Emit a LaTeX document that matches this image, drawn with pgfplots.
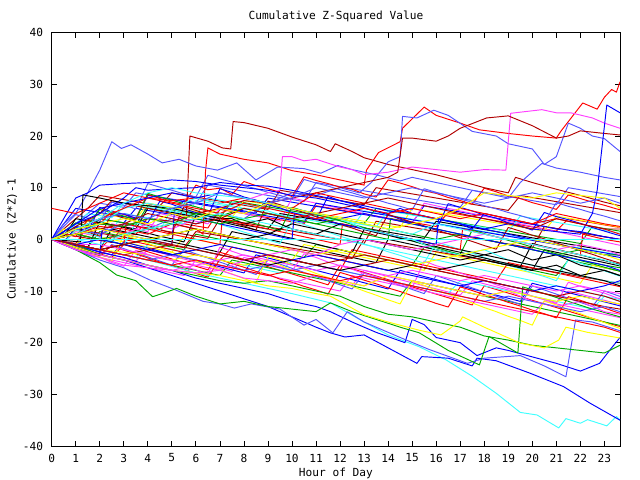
\documentclass[border=0pt]{standalone}
\usepackage{pgfplots}
\usepackage{pgfplotstable}
\pgfplotsset{compat=1.18}
\usepackage{fontspec}
\setmainfont{DejaVu Sans Mono}
\definecolor{gred}{HTML}{FF0000}
\definecolor{ggreen}{HTML}{00A800}
\definecolor{gblue}{HTML}{0000FF}
\definecolor{gmag}{HTML}{FF40FF}
\definecolor{gcyan}{HTML}{40FFFF}
\definecolor{gdred}{HTML}{B00000}
\definecolor{gyel}{HTML}{FFFF00}
\definecolor{gblk}{HTML}{000000}
\definecolor{glb}{HTML}{5555FF}
% half-hourly values, one series per row (h = 0, 0.5, 1, ..., 24)
\pgfplotstableread[header=false]{
n1 0 -0.4 -0.8 2.5 2.1 1.7 1.3 0.9 4.2 3.8 3.4 3.0 2.6 2.2 5.8 5.4 5.0 4.6 4.2 3.8 3.4 3.0 6.5 6.1 5.7 5.3 4.9 4.5 4.1 3.7 3.3 2.9 2.5 5.2 4.8 4.4 4.0 3.6 3.2 2.8 2.4 2.0 1.6 4.0 3.6 3.2 2.8 2.4 2.2
n2 0 -0.5 -1 -1.5 1.5 1 0.5 0 -0.5 -1 -1.5 -2 1 0.5 0 -0.5 -1 -1.5 -2 -2.5 -3 -3.5 -1 -1.5 -2 -2.5 -3 -3.5 -4 -4.5 -5 -1.5 -2 -2.5 -3 -3.5 -4 -4.5 -5 -5.5 -6 -6.5 -7 -4 -4.5 -5 -5.5 -6 -6.2
n3 0 1 2.5 2.1 4 3.6 3.2 6 5.6 5.2 4.8 7.5 7.1 6.7 6.3 5.9 5.5 5.1 8 7.6 7.2 6.8 6.4 6 5.6 5.2 4.8 4.4 4 3.6 3.2 6.5 6.1 5.7 5.3 4.9 4.5 4.1 3.7 3.3 2.9 2.5 2.1 1.7 1.3 0.9 0.5 0.1 -0.3
n4 0 -0.6 -1.2 -1.8 -2.4 -3 -3.6 -4.2 -2 -2.6 -3.2 -3.8 -4.4 -5 -5.6 -6.2 -3.5 -4.1 -4.7 -5.3 -5.9 -6.5 -7.1 -7.7 -8.3 -8.9 -6 -6.6 -7.2 -7.8 -8.4 -9 -9.6 -10.2 -10.8 -8 -8.6 -9.2 -9.8 -10.4 -11 -11.6 -12.2 -10 -10.6 -11.2 -11.8 -12.4 -13
n5 0 0.8 3 2.6 2.2 1.8 5 4.6 4.2 3.8 3.4 3 7.5 7.1 6.7 6.3 5.9 5.5 5.1 4.7 4.3 3.9 3.5 3.1 2.7 2.3 5.5 5.1 4.7 4.3 3.9 3.5 3.1 2.7 2.3 1.9 1.5 1.1 0.7 0.3 -0.1 -0.5 -0.9 -1.3 -1.7 -2.1 -2.5 -2.9 -3.3
n6 0 2 4 6 8.5 8.1 7.7 7.3 6.9 6.5 9 8.6 8.2 7.8 7.4 7 6.6 6.2 5.8 9.5 9.1 8.7 8.3 7.9 7.5 7.1 6.7 10 9.6 9.2 8.8 8.4 8 7.6 7.2 6.8 6.4 6 5.6 8.5 8.1 7.7 7.3 6.9 6.5 6.1 5.7 5.3 4.9
n7 0 -0.5 -1 1 0.5 0 -0.5 -1 -1.5 -2 -2.5 0.5 0 -0.5 -1 -1.5 -2 -2.5 -3 -3.5 -4 -1 -1.5 -2 -2.5 -3 -3.5 -4 -4.5 -5 -5.5 -6 -2.5 -3 -3.5 -4 -4.5 -5 -5.5 -6 -6.5 -7 -7.5 -8 -8.5 -5 -5.5 -6 -6.5
n8 0 -0.5 -1 -1.5 -2 2 1.5 1 0.5 0 -0.5 -1 -1.5 -2 -2.5 1.5 1 0.5 0 -0.5 -1 -1.5 -2 -2.5 -3 -3.5 -4 -4.5 0 -0.5 -1 -1.5 -2 -2.5 -3 -3.5 -4 -4.5 -5 -5.5 -6 -2 -2.5 -3 -3.5 -4 -4.5 -5 -5.5
n9 0 1.5 3 5 7 6.6 6.2 9 8.6 8.2 7.8 7.4 7 10.5 10.1 9.7 9.3 8.9 8.5 8.1 7.7 7.3 11 10.6 10.2 9.8 9.4 9 8.6 8.2 7.8 7.4 7 6.6 6.2 9.5 9.1 8.7 8.3 7.9 7.5 7.1 6.7 10 9.6 9.2 8.8 8.4 8
n10 0 -0.7 -1.4 -2.1 -2.8 -3.5 -1 -1.7 -2.4 -3.1 -3.8 -4.5 -5.2 -5.9 -2.5 -3.2 -3.9 -4.6 -5.3 -6 -6.7 -7.4 -8.1 -8.8 -5 -5.7 -6.4 -7.1 -7.8 -8.5 -9.2 -9.9 -10.6 -11.3 -12 -12.7 -9 -9.7 -10.4 -11.1 -11.8 -12.5 -13.2 -13.9 -14.6 -15.3 -16 -16.7 -17.2
n11 0 1 2 1.6 4 3.6 3.2 2.8 6.5 6.1 5.7 5.3 4.9 4.5 4.1 7.5 7.1 6.7 6.3 5.9 5.5 5.1 4.7 4.3 3.9 3.5 3.1 6 5.6 5.2 4.8 4.4 4 3.6 3.2 2.8 2.4 2 1.6 1.2 0.8 0.4 0 -0.4 -0.8 2.5 2.1 1.7 1.3
n12 0 -0.6 -1.2 -1.8 -2.4 -3 -0.5 -1.1 -1.7 -2.3 -2.9 -3.5 -4.1 -4.7 -5.3 -5.9 -6.5 -3 -3.6 -4.2 -4.8 -5.4 -6 -6.6 -7.2 -7.8 -8.4 -9 -9.6 -6 -6.6 -7.2 -7.8 -8.4 -9 -9.6 -10.2 -10.8 -11.4 -12 -8.5 -9.1 -9.7 -10.3 -10.9 -11.5 -12.1 -12.7 -13.3
n13 0 -0.5 1.5 1 0.5 3 2.5 2 1.5 5 4.5 4 3.5 3 6 5.5 5 4.5 4 3.5 8 7.5 7 6.5 6 5.5 5 4.5 4 3.5 3 7 6.5 6 5.5 5 4.5 4 3.5 3 2.5 2 1.5 1 0.5 0 -0.5 -1 -1.5
n14 0 -0.5 -1 -1.5 -2 -2.5 -3 -3.5 -1 -1.5 -2 -2.5 -3 -3.5 -4 -4.5 -5 -5.5 -6 -6.5 -4 -4.5 -5 -5.5 -6 -6.5 -7 -7.5 -8 -8.5 -9 -9.5 -10 -10.5 -8 -8.5 -9 -9.5 -10 -10.5 -11 -11.5 -12 -12.5 -13 -13.5 -11 -11.5 -12
n15 0 1 0.6 0.2 -0.2 -0.6 3 2.6 2.2 1.8 1.4 1 0.6 0.2 4 3.6 3.2 2.8 2.4 2 1.6 1.2 0.8 0.4 0 -0.4 -0.8 3.5 3.1 2.7 2.3 1.9 1.5 1.1 0.7 0.3 -0.1 -0.5 -0.9 -1.3 -1.7 2.5 2.1 1.7 1.3 0.9 0.5 0.1 -0.3
n16 0 2 1.6 3.5 5 4.6 4.2 3.8 7 6.6 6.2 5.8 5.4 5 4.6 4.2 7.5 7.1 6.7 6.3 5.9 5.5 5.1 4.7 4.3 3.9 3.5 3.1 2.7 2.3 6 5.6 5.2 4.8 4.4 4 3.6 3.2 2.8 2.4 2 1.6 4.5 4.1 3.7 3.3 2.9 2.5 2.1
n17 0 3 6 5.6 5.2 4.8 4.4 4 8.5 8.1 7.7 7.3 6.9 6.5 6.1 5.7 5.3 4.9 4.5 4.1 3.7 3.3 7 6.6 6.2 5.8 5.4 5 4.6 4.2 3.8 3.4 3 2.6 2.2 1.8 1.4 1 0.6 0.2 -0.2 -0.6 -1 -1.4 -1.8 -2.2 -2.6 -3 -3.4
n18 0 -0.5 -1 -1.5 -2 0.5 0 -0.5 -1 -1.5 -2 -2.5 -3 -3.5 -4 -1.5 -2 -2.5 -3 -3.5 -4 -4.5 -5 -5.5 -6 -2 -2.5 -3 -3.5 -4 -4.5 -5 -5.5 -6 -6.5 -7 -7.5 -8 -4.5 -5 -5.5 -6 -6.5 -7 -7.5 -8 -8.5 -9 -9.5
n19 0 -1 -2 -3 -3.5 -4 -4.5 -5 -5.5 -6 -6.5 -7 -4 -4.5 -5 -5.5 -6 -6.5 -7 -7.5 -8 -8.5 -9 -9.5 -10 -7 -7.5 -8 -8.5 -9 -9.5 -10 -10.5 -11 -11.5 -12 -12.5 -13 -13.5 -14 -14.5 -12 -12.5 -13 -13.5 -14 -14.5 -15 -15.5
n20 0 -0.5 -1 -1.5 -2 -2.5 -3 -3.5 -4 -4.5 -5 -5.5 -6 -6.5 -7 -4 -4.5 -5 -5.5 -6 -6.5 -7 -7.5 -8 -8.5 -9 -9.5 -10 -10.5 -11 -8 -8.5 -9 -9.5 -10 -10.5 -11 -11.5 -12 -12.5 -13 -13.5 -14 -14.5 -15 -15.5 -16 -16.5 -17
n21 0 1 3 5 4.6 4.2 7 6.6 6.2 5.8 5.4 5 4.6 8 7.6 7.2 6.8 6.4 6 5.6 5.2 4.8 4.4 4 3.6 3.2 2.8 2.4 5.5 5.1 4.7 4.3 3.9 3.5 3.1 2.7 2.3 1.9 1.5 4.5 4.1 3.7 3.3 2.9 2.5 2.1 1.7 1.3 0.9
n22 0 -0.4 2 1.6 1.2 0.8 0.4 0 -0.4 -0.8 -1.2 -1.6 1.5 1.1 0.7 0.3 -0.1 -0.5 -0.9 -1.3 -1.7 -2.1 -2.5 -2.9 -3.3 -3.7 0 -0.4 -0.8 -1.2 -1.6 -2 -2.4 -2.8 -3.2 -3.6 -4 -4.4 -4.8 -5.2 -5.6 -6 -6.4 -6.8 -7.2 -7.6 -8 -8.4 -8.8
n23 0 0.5 4 3.6 3.2 2.8 2.4 2 6 5.6 5.2 4.8 4.4 4 3.6 3.2 2.8 2.4 2 5 4.6 4.2 3.8 3.4 3 2.6 2.2 1.8 1.4 1 0.6 0.2 3.5 3.1 2.7 2.3 1.9 1.5 1.1 0.7 0.3 -0.1 -0.5 -0.9 -1.3 -1.7 -2.1 -2.5 -2.9
n24 0 -0.8 -1.6 -2.4 -3.2 -1 -1.8 -2.6 -3.4 -4.2 -5 -2 -2.8 -3.6 -4.4 -5.2 -6 -6.8 -4 -4.8 -5.6 -6.4 -7.2 -8 -8.8 -9.6 -6.5 -7.3 -8.1 -8.9 -9.7 -10.5 -7 -7.8 -8.6 -9.4 -10.2 -11 -11.8 -12.6 -9 -9.8 -10.6 -11.4 -12.2 -13 -10 -10.8 -11.6
m1 0 1.2 0.5 3.8 2.9 5.5 4.8 4.1 8.7 7.9 7.2 6.8 10.5 9.6 9.9 8.7 11.2 10.4 9.8 9.1 8.3 12.1 11.4 10.8 10.1 9.7 8.8 8.2 11.5 10.9 10.2 9.4 8.9 8.1 7.5 6.8 9.9 9.2 8.4 7.9 7.1 6.5 5.8 8.6 7.9 7.2 6.6 5.9 5.4
m2 0 -0.7 2.4 1.5 6.2 5.3 4.9 4.1 3.2 7.4 6.8 5.9 5.2 4.5 9.8 9.1 8.2 7.6 6.7 6.1 5.2 4.6 3.8 8.3 7.5 6.9 6.1 5.4 4.8 3.9 3.3 2.5 1.8 6.9 6.2 5.5 4.7 4.1 3.2 2.6 1.8 5.2 4.4 3.8 3.1 2.3 1.6 0.9 0.3
m3 0 -1.1 -1.8 -2.9 -3.4 -4.5 -5.2 -2.1 -2.9 -3.7 -4.1 -5.3 -5.9 -6.8 -1.5 -2.3 -3.1 -3.6 -4.8 -5.4 -6.1 -2.8 -3.5 -4.4 -5.1 -5.8 -6.6 -7.2 -8.1 -8.8 -9.4 -4.2 -5.1 -5.7 -6.5 -7.3 -7.9 -8.8 -9.5 -10.1 -11 -11.7 -12.4 -8.3 -9.1 -9.8 -10.4 -11.3 -11.9
m4 0 -0.9 -1.5 -2.6 -3.1 -1.2 -2.1 -2.8 -3.6 -4.4 -5.1 -5.8 -6.6 -7.3 -3.9 -4.7 -5.4 -6.2 -6.8 -7.7 -8.3 -9.1 -9.8 -10.6 -6.4 -7.1 -7.9 -8.6 -9.4 -10.1 -10.9 -11.6 -12.4 -13.1 -9.2 -9.9 -10.7 -11.4 -12.2 -12.9 -13.7 -14.4 -15.2 -11.1 -11.8 -12.6 -13.3 -14.1 -14.8
m5 0 0.8 2.1 1.4 0.6 4.9 4.1 3.5 2.7 1.9 1.2 6.3 5.6 4.8 4.1 3.3 2.6 1.8 7.4 6.7 5.9 5.2 4.4 3.7 2.9 2.2 1.4 0.7 4.8 4.1 3.3 2.6 1.8 1.1 0.3 -0.4 -1.2 -1.9 2.3 1.6 0.8 0.1 -0.7 -1.4 -2.2 -2.9 -3.7 -4.4 -5.1
m6 0 -0.6 1.8 1.2 0.4 -0.3 -1.1 3.2 2.5 1.7 5.9 5.2 4.4 3.7 2.9 2.2 1.4 0.7 -0.1 -0.8 3.6 2.9 2.1 1.4 0.6 -0.1 -0.9 -1.6 -2.4 -3.1 -3.9 -4.6 -0.5 -1.2 -2 -2.7 -3.5 -4.2 -5 -5.7 -6.5 -7.2 -8 -3.9 -4.6 -5.4 -6.1 -6.9 -7.6
m7 0 1.5 3.2 2.6 5.8 5.1 4.5 3.8 8.9 8.2 7.6 6.9 6.3 5.6 5 4.3 3.7 3 2.4 1.7 6.2 5.5 4.9 4.2 3.6 2.9 2.3 1.6 1 0.3 -0.3 -1 -1.6 -2.3 -2.9 1.8 1.1 0.5 -0.2 -0.8 -1.5 -2.1 -2.8 -3.4 -4.1 -4.7 -5.4 -6 -6.7
m8 0 -0.8 -1.7 -2.5 -3.4 -4.2 0.9 0.1 -0.8 -1.6 -2.5 -3.3 -4.2 -5 -5.9 -6.7 -7.6 -8.4 -3.2 -4 -4.9 -5.7 -6.6 -7.4 -8.3 -9.1 -10 -10.8 -11.7 -12.5 -8.1 -8.9 -9.8 -10.6 -11.5 -12.3 -13.2 -14 -14.9 -15.7 -16.6 -11.9 -12.7 -13.6 -14.4 -15.3 -16.1 -17 -17.8
m9 0 2.5 4.8 4.1 3.5 7.2 6.6 5.9 10.8 10.1 9.5 8.8 8.2 12.4 11.7 11.1 10.4 9.8 9.1 8.5 7.8 11.6 10.9 10.3 9.6 9 8.3 7.7 7 6.4 5.7 9.8 9.1 8.5 7.8 7.2 6.5 5.9 5.2 4.6 3.9 3.3 7.1 6.4 5.8 5.1 4.5 3.8 3.2
m10 0 -0.5 -1.1 -1.6 3.4 2.8 2.3 1.7 1.2 0.6 0.1 -0.5 4.6 4 3.5 2.9 2.4 1.8 1.3 0.7 0.2 -0.4 -0.9 -1.5 -2 -2.6 1.9 1.3 0.8 0.2 -0.3 -0.9 -1.4 -2 -2.5 -3.1 -3.6 -4.2 -4.7 -5.3 -0.8 -1.4 -1.9 -2.5 -3 -3.6 -4.1 -4.7 -5.2
}\rawbulk
\pgfplotstabletranspose[colnames from=0]\bulk\rawbulk
\begin{document}
\begin{tikzpicture}
\fontsize{11.2}{13}\selectfont
\begin{axis}[
  at={(0,0)}, anchor=south west,
  scale only axis, width=568.3bp, height=413.3bp,
  xmin=0, xmax=23.65, ymin=-40, ymax=40,
  xtick={0,1,...,23}, ytick={-40,-30,...,40},
  xticklabels={0,1,2,3,4,5,6,7,8,9,10,11,12,13,14,15,16,17,18,19,20,21,22,23},
  yticklabels={-40,-30,-20,-10,0,10,20,30,40},
  tick align=inside, major tick length=5bp,
  xticklabel style={anchor=center, inner sep=0pt, yshift=-12bp},
  yticklabel style={anchor=east, inner sep=0pt, xshift=-8.5bp},
  axis line style={line width=0.8bp}, every tick/.style={black, line width=0.8bp},
  every axis plot/.append style={no markers, line width=0.95bp, line join=round},
  clip=true,
]
% half-hourly bulk series
\addplot[gred]   table[x expr=\coordindex/2, y=n1]  {\bulk};
\addplot[ggreen] table[x expr=\coordindex/2, y=n2]  {\bulk};
\addplot[gblue]  table[x expr=\coordindex/2, y=n3]  {\bulk};
\addplot[gmag]   table[x expr=\coordindex/2, y=n4]  {\bulk};
\addplot[gcyan]  table[x expr=\coordindex/2, y=n5]  {\bulk};
\addplot[gdred]  table[x expr=\coordindex/2, y=n6]  {\bulk};
\addplot[gyel]   table[x expr=\coordindex/2, y=n7]  {\bulk};
\addplot[gblk]   table[x expr=\coordindex/2, y=n8]  {\bulk};
\addplot[glb]    table[x expr=\coordindex/2, y=n9]  {\bulk};
\addplot[gred]   table[x expr=\coordindex/2, y=n10] {\bulk};
\addplot[ggreen] table[x expr=\coordindex/2, y=n11] {\bulk};
\addplot[gblue]  table[x expr=\coordindex/2, y=n12] {\bulk};
\addplot[gmag]   table[x expr=\coordindex/2, y=n13] {\bulk};
\addplot[gcyan]  table[x expr=\coordindex/2, y=n14] {\bulk};
\addplot[gdred]  table[x expr=\coordindex/2, y=n15] {\bulk};
\addplot[gyel]   table[x expr=\coordindex/2, y=n16] {\bulk};
\addplot[gblue]  table[x expr=\coordindex/2, y=n17] {\bulk};
\addplot[gred]   table[x expr=\coordindex/2, y=n18] {\bulk};
\addplot[gmag]   table[x expr=\coordindex/2, y=n19] {\bulk};
\addplot[ggreen] table[x expr=\coordindex/2, y=n20] {\bulk};
\addplot[gcyan]  table[x expr=\coordindex/2, y=n21] {\bulk};
\addplot[gdred]  table[x expr=\coordindex/2, y=n22] {\bulk};
\addplot[gblk]   table[x expr=\coordindex/2, y=n23] {\bulk};
\addplot[glb]    table[x expr=\coordindex/2, y=n24] {\bulk};
\addplot[gred]   table[x expr=\coordindex/2, y=m1]  {\bulk};
\addplot[gblue]  table[x expr=\coordindex/2, y=m2]  {\bulk};
\addplot[gmag]   table[x expr=\coordindex/2, y=m3]  {\bulk};
\addplot[gred]   table[x expr=\coordindex/2, y=m4]  {\bulk};
\addplot[gdred]  table[x expr=\coordindex/2, y=m5]  {\bulk};
\addplot[gcyan]  table[x expr=\coordindex/2, y=m6]  {\bulk};
\addplot[ggreen] table[x expr=\coordindex/2, y=m7]  {\bulk};
\addplot[gyel]   table[x expr=\coordindex/2, y=m8]  {\bulk};
\addplot[glb]    table[x expr=\coordindex/2, y=m9]  {\bulk};
\addplot[gblk]   table[x expr=\coordindex/2, y=m10] {\bulk};
% upper outliers
\addplot[gdred] coordinates {(0,0)(0.5,1)(1,2.5)(2,5)(2.5,7.5)(3,7)(4,6)(5,5)(5.6,4)(5.75,20)(6.5,19)(7.1,17.7)(7.45,17.5)(7.55,22.8)(8,22.6)(9,21.5)(10,19.8)(11,18.3)(11.6,17)(11.8,18.5)(12.5,17)(13,15.8)(14,14.5)(15,13.5)(16,12.5)(17,11.3)(18,10)(19,9)(19.3,12)(20,11)(21,9.7)(22,8.5)(23,7.2)(23.65,6.5)};
\addplot[gred] coordinates {(0,0)(1,1)(2,2.5)(3,2)(4,1)(5,3)(6,2)(6.3,1)(6.4,13.1)(6.5,17.7)(7,16.5)(8,15.5)(9,14.8)(10,13.3)(11,12.5)(12,11.5)(13,10.5)(13.1,13.4)(13.6,16.8)(14.5,18.9)(14.6,21.5)(15.5,25.6)(16,24)(17,22.5)(17.8,21.2)(19,20.5)(20,20)(21,19.6)(21.2,21)(22.1,26.4)(22.7,25.2)(23,27.5)(23.3,29)(23.5,28.5)(23.65,30.5)};
\addplot[glb] coordinates {(0,0)(0.5,3)(1,5)(1.5,9)(2,13.4)(2.5,18.9)(2.9,17.6)(3.3,18.3)(4,16.5)(4.6,14.8)(5.3,15.5)(6,14.2)(6.9,13.4)(7.7,14.8)(8.5,11.5)(9.4,14)(10.5,13.7)(11.2,12.8)(11.9,14.3)(12.5,13.5)(13.5,12.5)(14.5,11.3)(15,12)(16,11)(17,10)(18,9)(19,8)(19.5,11)(20.4,14.7)(21,13.8)(22,13)(23,12)(23.65,11.5)};
\addplot[glb] coordinates {(0,0)(1,2)(2,1)(3,3)(4,2)(5,4)(6,3)(7,5)(8,4)(9,7)(10,9)(11,8.5)(12,10)(12.8,9)(13.3,11)(14,15)(14.5,16)(14.6,23.8)(15.2,23.5)(15.9,25)(16.5,24)(17.5,20.9)(18.5,20)(19,18.5)(20,17.5)(20.5,14.5)(21,16)(21.5,22.5)(22,21.5)(22.5,20)(23,19.5)(23.65,17)};
\addplot[gmag] coordinates {(0,0)(1,-1)(2,0)(3,1)(4,3)(5,2)(6,4)(7,6)(8,7.5)(9,9)(9.5,9.5)(9.6,16)(10,16)(10.5,15.2)(11,15.5)(12,14)(12.5,13.5)(13,12.5)(14,13)(15,14)(16,13.5)(17,13)(18,13.5)(18.9,13.4)(19.1,24.4)(20.4,25.1)(21,24.5)(21.6,24.5)(22.5,23.5)(23,22.5)(23.65,21.5)};
\addplot[gdred] coordinates {(0,0)(1,1)(2,3)(3,2.5)(4,4)(5,3.5)(6,5)(7,6)(8,7.5)(9,7)(10,8)(11,9)(12,10)(13,11)(14,12)(14.4,13)(14.6,19.6)(15,19.6)(16,19)(16.5,20)(17,21.5)(18.1,23.5)(19,23.9)(20,22)(21,19.6)(21.5,20)(22,21)(23,20.5)(23.65,20.2)};
\addplot[gblue] coordinates {(0,0)(1,3)(2,5)(3,8)(3.5,10)(4,9.5)(5,9.8)(6,10)(7,11)(8,10.5)(9,10.3)(10,9.5)(11,8.5)(12,7.5)(13,6.5)(14,5.5)(15,5)(16,4)(17,3)(18,2)(19,3)(20,2)(21,1.5)(22,1)(22.5,5)(22.7,9.5)(23.1,26)(23.65,24.5)};
\addplot[gblue] coordinates {(0,0)(0.5,4)(1,8)(1.5,9)(2,10.5)(3,10.8)(4,11)(5,11.5)(6,11.2)(7,10.5)(8,10)(9,9.5)(10,8.5)(11,8)(12,7)(13,6)(14,5)(14.5,6)(15,5)(16,4)(17,3)(17.5,2)(18,5)(19,4)(20,3)(21,2)(22,1.5)(23,0.5)(23.65,0)};
\addplot[gred] coordinates {(0,6)(0.5,5.5)(1,5)(2,7)(3,9)(4,8)(5,7.5)(6,8)(7,7)(8,8)(9,7)(10,6)(11,9)(12,8)(13,7)(14,6)(15,5)(16,4)(17,6)(18,5)(19,4)(20,3)(21,5)(22,4)(23,3)(23.65,2.5)};
\addplot[gblk] coordinates {(0,0)(1.2,-0.5)(1.3,8.6)(2,8)(3,7)(4,6.5)(5,6)(6,5)(7,4)(7.5,4)(8,3)(9,4)(10,2)(11,1)(12,3)(13,2)(14,1)(15,0)(16,-1)(17,-2)(18,-3)(19,-2)(20,-4)(21,-3)(22,-5)(23,-6)(23.65,-7)};
% lower outliers
\addplot[gcyan] coordinates {(0,0)(2,-2)(4,-4)(6,-6.5)(8,-8.5)(10,-10.5)(11.6,-12.3)(13,-16)(14,-18.5)(15.3,-20.8)(16.4,-23.3)(17.5,-26.5)(18.5,-29.8)(19.5,-33.5)(20.2,-34)(21.1,-36.5)(21.4,-34.7)(22,-35.6)(22.3,-34.9)(23.1,-36.1)(23.5,-34.3)(23.65,-35)};
\addplot[gblue] coordinates {(0,0)(1,-1.5)(2,-3)(3,-4)(4,-5.5)(5,-7)(6,-8.5)(7,-10)(8,-11.5)(9,-13)(10,-15)(11,-17)(11.6,-18.1)(12.2,-18.9)(13,-18.5)(14,-21)(15.2,-24)(15.4,-22.7)(16.5,-23)(17.5,-24.5)(17.7,-23)(18.5,-23.5)(19.9,-25.9)(21.3,-28.5)(22.4,-31.7)(23.65,-35)};
\addplot[gblue] coordinates {(0,0)(1,-1)(2,-2.5)(3,-3.5)(4,-5)(5,-6)(6,-7.5)(7,-8.5)(8,-9.5)(9,-10.5)(10,-12)(11,-13)(11.6,-14)(12.5,-16)(13.5,-18)(14.7,-20)(15,-15.5)(15.5,-16.5)(16,-19)(17,-20)(17.7,-22.5)(18.5,-21)(19,-21.5)(20.2,-23)(21,-24)(22,-25.5)(22.8,-24)(23.3,-21)(23.65,-19)};
\addplot[glb] coordinates {(0,0)(1,-2)(2,-4)(3,-5.5)(4.1,-7.9)(5,-9.5)(6.3,-12)(7,-12.5)(7.6,-13.3)(8.3,-12.5)(9.5,-13.5)(10.5,-16.6)(11,-15.5)(11.7,-18.1)(12.3,-14)(13,-16)(14.4,-18.8)(15.7,-21.3)(17.3,-24)(18,-23)(19.5,-22.5)(20.5,-24.5)(21.4,-26.6)(21.8,-15.6)(22.5,-16)(23.65,-17.7)};
\addplot[ggreen] coordinates {(0,0)(1,-2)(2,-4.5)(2.7,-6.9)(3.5,-8)(4.2,-11.1)(4.6,-10.5)(5.2,-9.5)(6,-11)(7,-12.5)(8,-12)(9,-13)(10,-13.5)(11,-14)(11.6,-12.3)(12.5,-14)(13.5,-15.5)(14.5,-17)(15.3,-18.1)(16.5,-21.5)(17.8,-24.3)(18.2,-18.8)(19.4,-22)(19.6,-9.2)(20.5,-10.5)(21.5,-12)(22.5,-13.5)(23.65,-15)};
\addplot[ggreen] coordinates {(0,0)(1,-1)(2,-3)(3,-4)(4,-5)(5,-6)(6,-7)(7,-8)(8,-8.5)(9,-8)(10,-9)(11,-10)(12,-11)(13,-13)(14,-14.5)(15,-15)(16,-16)(17,-17)(18,-18.7)(19,-19.5)(20,-20.5)(21,-21)(22,-21.5)(23,-22)(23.65,-20.5)};
\addplot[gyel] coordinates {(0,0)(1,-1.5)(2,-3)(3,-4)(4,-5)(5,-6)(6,-6.5)(7,-7)(8,-8)(9,-9)(10,-9.5)(11,-10.5)(11.6,-11)(13,-14.6)(14,-16)(15.3,-17.6)(16.2,-18.5)(17,-15.8)(17.1,-15)(18,-17)(19.5,-20.1)(20.5,-21)(21.1,-19.5)(21.4,-17)(22.3,-18)(23.65,-19.1)};
% hourly bulk
\addplot[gred] coordinates {(0,0)(1,-1)(2,-2)(3,-1)(3.1,3)(4,2)(5,1)(6,0)(7,-1)(7.1,4)(8,3)(9,2)(10,1)(11,0)(12,-1)(12.1,3)(13,2)(14,1)(15,0)(16,-1)(17,-2)(17.1,2)(18,1)(19,0)(20,-1)(21,-2)(22,-3)(22.1,1)(23,0)(23.65,-0.5)};
\addplot[ggreen] coordinates {(0,0)(1,2)(2,3)(3,2.5)(4,4)(5,3)(6,5)(7,4.5)(8,6)(9,5)(10,4)(11,3)(12,2)(13,1)(14,0)(14.1,4)(15,3)(16,2)(17,1)(18,0)(19,-1)(20,-2)(21,-3)(22,-4)(23,-5)(23.65,-5.5)};
\addplot[gblue] coordinates {(0,0)(1,-2)(2,-3)(2.1,2)(3,1)(4,0)(5,-1)(5.1,5)(6,4)(7,3)(8,2)(9,1)(10,0)(10.1,5)(11,4)(12,3)(13,2)(14,1)(15,0)(16,-1)(16.1,4)(17,3)(18,2)(19,1)(20,0)(21,-1)(22,-2)(23,-3)(23.65,-3.5)};
\addplot[gmag] coordinates {(0,0)(1,-2)(2,-3.5)(3,-5)(4,-5.5)(5,-6)(6,-6.5)(7,-6)(8,-7.5)(9,-8)(10,-8.5)(11,-7)(12,-8)(13,-9)(14,-7)(15,-8)(16,-9)(17,-10)(18,-11)(19,-10)(20,-12)(21,-13)(22,-12)(23,-14)(23.65,-14.5)};
\addplot[gcyan] coordinates {(0,0)(1,1)(2,3)(3,6)(4,7)(5,6)(6,8)(7,7)(8,6)(9,5.5)(10,4)(11,5)(12,4)(13,2)(14,1)(15,0)(16,-2)(17,-3)(18,-2)(19,-4)(20,-5)(21,-6)(22,-7)(23,-8)(23.65,-8.5)};
\addplot[gdred] coordinates {(0,0)(1,-1)(2,-2)(3,-3)(4,-2)(5,-1)(5.1,3)(6,2)(7,1)(8,0)(9,-1)(10,-2)(11,-3)(12,-4)(13,-5)(14,-4)(15,-5)(16,-6)(17,-7)(18,-8)(19,-9)(20,-10)(21,-11)(22,-12)(23,-13)(23.65,-13.5)};
\addplot[gyel] coordinates {(0,0)(1,-1)(2,-2)(3,-2.5)(4,-3)(5,-4)(6,-3)(7,-4)(8,-5)(9,-4)(10,-6)(11,-7)(12,-8)(13,-9)(14,-7)(15,-8)(16,-9)(17,-10)(18,-11)(19,-10)(20,-11)(21,-12)(22,-11)(23,-12)(23.65,-12.5)};
\addplot[gblk] coordinates {(0,0)(1,1)(2,0)(3,-1)(4,0)(5,1)(6,2)(7,1)(8,0)(9,1)(10,3)(11,2)(12,1)(13,0)(14,-1)(15,-2)(16,-3)(17,-4)(18,-3)(19,-4)(20,-5)(21,-6)(22,-7)(23,-8)(23.65,-9)};
\addplot[glb] coordinates {(0,0)(1,-1)(2,-2)(3,-3)(4,-4)(5,-3)(6,-4)(7,-5)(8,-6)(9,-5)(10,-6)(11,-5)(12,-6)(13,-7)(14,-8)(15,-9)(16,-10)(17,-11)(18,-12)(19,-11)(20,-12)(21,-13)(22,-14)(23,-13)(23.65,-14)};
\addplot[gred] coordinates {(0,0)(1,2)(2,4)(3,6)(4,8)(5,7)(6,6)(7,5)(8,7)(9,6)(10,5)(11,4)(12,5)(13,6)(14,5)(15,6)(16,5)(17,4)(18,5)(19,4)(20,3)(21,4)(22,3)(23,2)(23.65,1)};
\addplot[ggreen] coordinates {(0,0)(1,1)(2,0)(3,1)(4,2)(5,3)(6,4)(7,3)(8,4)(9,5)(10,4)(11,3)(12,4)(13,3)(14,2)(15,1)(16,0)(17,1)(18,0)(19,-1)(20,-2)(21,-3)(22,-2)(23,-3)(23.65,-3)};
\addplot[gblue] coordinates {(0,0)(1,3)(2,6)(3,7)(4,8)(5,9)(6,8)(7,9)(8,8)(9,7)(10,6)(11,5)(12,4)(13,5)(14,4)(15,3)(16,2)(17,1)(18,0)(19,-1)(20,-2)(21,-3)(22,-4)(23,-5)(23.65,-6)};
\addplot[gmag] coordinates {(0,0)(1,-1)(2,-1)(3,-2)(4,-3)(5,-4)(6,-5)(7,-4)(8,-3)(9,-4)(10,-5)(11,-6)(12,-5)(13,-6)(14,-7)(15,-6)(16,-7)(17,-8)(18,-7)(19,-8)(20,-9)(21,-10)(22,-9)(23,-10)(23.65,-10.5)};
\addplot[gcyan] coordinates {(0,0)(1,0)(2,-1)(3,1)(4,2)(5,3)(6,4)(7,5)(8,4)(9,3)(10,2)(11,1)(12,0)(13,-1)(14,-2)(15,-3)(16,-4)(17,-5)(18,-6)(19,-7)(20,-8)(21,-9)(22,-10)(23,-11)(23.65,-12)};
\addplot[gdred] coordinates {(0,0)(1,1)(2,2)(3,3)(4,5)(5,4)(6,3)(7,4)(8,6)(9,5)(10,4)(11,5)(12,6)(13,7)(14,8)(15,7)(16,6)(17,5)(18,4)(19,3)(20,2)(21,4)(22,3)(23,2)(23.65,2)};
\addplot[gyel] coordinates {(0,0)(1,1)(2,2)(3,1)(4,0)(5,1)(6,2)(7,1)(8,0)(9,-1)(10,-2)(11,-3)(12,-2)(13,-3)(14,-4)(15,-5)(16,-4)(17,-3)(18,-2)(19,-1)(20,0)(21,-1)(22,-2)(23,-3)(23.65,-4)};
\addplot[gblk] coordinates {(0,0)(1,-1)(2,-2)(3,-1)(4,-2)(5,-3)(6,-2)(7,-3)(8,-4)(9,-5)(10,-4)(11,-5)(12,-6)(13,-5)(14,-6)(15,-5)(16,-6)(17,-5)(18,-4)(19,-5)(20,-6)(21,-5)(22,-7)(23,-6)(23.65,-7)};
\addplot[glb] coordinates {(0,0)(1,2)(2,4)(3,5)(4,4)(5,6)(6,7)(7,9)(8,8)(9,7)(10,8)(11,10)(12,9)(13,8)(14,9)(15,10)(16,9)(17,8)(18,7)(19,8)(20,9)(21,8)(22,7)(23,8)(23.65,7)};
\addplot[gred] coordinates {(0,0)(1,-1)(2,-2)(3,-3)(4,-4)(5,-5)(6,-4)(7,-5)(8,-6)(9,-7)(10,-6)(11,-7)(12,-8)(13,-7)(14,-8)(15,-9)(16,-10)(17,-11)(18,-12)(19,-13)(20,-14)(21,-15)(22,-16)(23,-17)(23.65,-18)};
\addplot[gblue] coordinates {(0,0)(1,-1)(2,0)(3,-1)(4,-2)(5,-3)(6,-2)(7,-1)(8,-2)(9,-3)(10,-4)(11,-3)(12,-4)(13,-5)(14,-6)(15,-7)(16,-8)(17,-9)(18,-8)(19,-9)(20,-10)(21,-9)(22,-10)(23,-9)(23.65,-8)};
\addplot[gmag] coordinates {(0,0)(1,-2)(2,-3)(3,-4)(4,-5)(5,-6)(6,-5)(7,-6)(8,-4)(9,-3)(10,-2)(11,-3)(12,-1)(13,0)(14,-1)(15,-2)(16,-1)(17,0)(18,1)(19,0)(20,-1)(21,-2)(22,-1)(23,-2)(23.65,-3)};
\addplot[gcyan] coordinates {(0,0)(1,2)(2,4)(3,7)(4,9)(5,10)(6,9)(7,8.5)(8,8)(9,7)(10,6)(11,5)(12,4)(13,3)(14,2)(15,1)(16,3)(17,2)(18,1)(19,0)(20,-1)(21,-2)(22,-3)(23,-4)(23.65,-5)};
\addplot[gdred] coordinates {(0,0)(1,-1)(2,-2)(3,-1)(4,0)(5,-1)(6,-2)(7,-3)(8,-4)(9,-3)(10,-4)(11,-5)(12,-4)(13,-3)(14,-4)(15,-5)(16,-6)(17,-7)(18,-8)(19,-9)(20,-10)(21,-11)(22,-10)(23,-11)(23.65,-12)};
\addplot[gyel] coordinates {(0,0)(1,2)(2,3)(3,4)(4,3)(5,5)(6,4)(7,6)(8,5)(9,7)(10,6)(11,5)(12,4)(13,3)(14,2)(15,3)(16,4)(17,6)(18,9)(19,8.5)(20,8)(21,9)(22,8.5)(23,8)(23.65,6)};
\addplot[gcyan] coordinates {(0,0)(23.65,0)};
\end{axis}
\node at (284.2bp,429.6bp) {Cumulative Z-Squared Value};
\node at (284.2bp,-27bp) {Hour of Day};
\node[rotate=90] at (-39.7bp,206.6bp) {Cumulative (Z*Z)-1};
\pgfresetboundingbox
\path[use as bounding box] (-51.7bp,-34bp) rectangle (588.3bp,446bp);
\end{tikzpicture}
\end{document}
